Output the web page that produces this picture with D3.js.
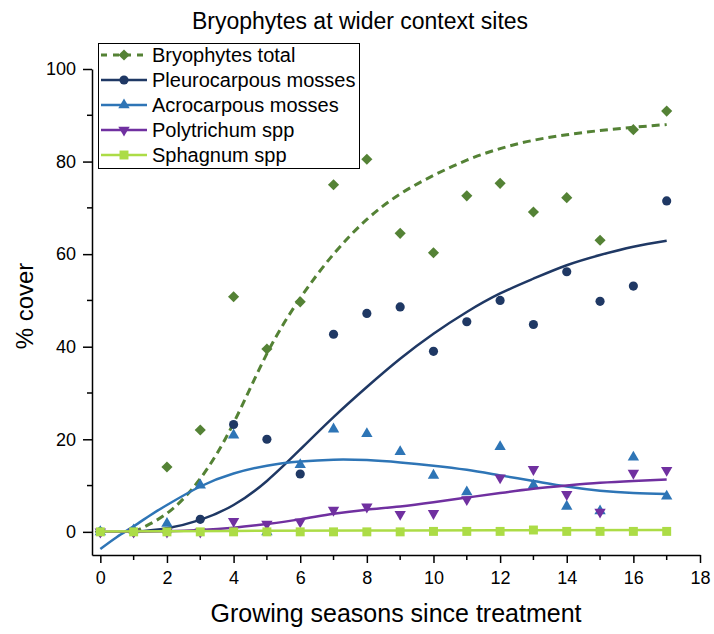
<!DOCTYPE html>
<html>
<head>
<meta charset="utf-8">
<script src="https://cdn.jsdelivr.net/npm/d3@7"></script>
<style>
  body { margin: 0; background: #fff; }
  text { font-family: "Liberation Sans", Arial, sans-serif; fill: #000; }
</style>
</head>
<body>
<svg id="chart"></svg>
<script>
var WIDTH = 714;
var HEIGHT = 634;

// observed values, one per growing season
var seasons = [0, 1, 2, 3, 4, 5, 6, 7, 8, 9, 10, 11, 12, 13, 14, 15, 16, 17];
var total  = [0, 0, 14.0, 22.0, 50.8, 39.5, 49.7, 75.0, 80.5, 64.5, 60.3, 72.6, 75.3, 69.1, 72.2, 63.0, 86.9, 90.9];
var pleuro = [0, 0, 0, 2.7, 23.2, 20.0, 12.5, 42.7, 47.2, 48.6, 39.0, 45.4, 50.0, 44.8, 56.2, 49.8, 53.1, 71.5];
var acro   = [0, 0.4, 1.8, 10.1, 20.9, 0, 14.5, 22.2, 21.2, 17.3, 12.2, 8.6, 18.4, 10.1, 5.5, 4.5, 16.1, 7.7];
var poly   = [0, 0, 0, 0, 2.3, 1.7, 2.2, 4.7, 5.4, 3.8, 4.0, 7.0, 11.7, 13.5, 8.1, 4.3, 12.7, 13.3];
var sphag  = [0, 0, 0, 0, 0, 0, 0, 0, 0, 0, 0.1, 0.1, 0.1, 0.4, 0.1, 0.1, 0.1, 0.1];

// fitted curves
var totalFitX = [1, 2, 3, 4, 5, 6, 7, 8, 9, 10, 11, 12, 13, 14, 15, 16, 17];
var totalFit  = [0, 4, 11.5, 23.5, 38.5, 50.5, 60, 67.5, 73, 77, 80.3, 82.8, 84.6, 85.8, 86.7, 87.4, 88];
var pleuroFitX = [1, 2, 3, 4, 5, 6, 7, 8, 9, 10, 11, 12, 13, 14, 15, 16, 17];
var pleuroFit  = [0, 0.8, 2.6, 5.8, 11, 17.8, 24.8, 31.3, 37.4, 42.8, 47.5, 51.5, 54.7, 57.6, 59.8, 61.6, 62.9];
var acroFitX = [0, 0.5, 1, 1.5, 2, 3, 4, 5, 6, 7, 8, 9, 10, 11, 12, 13, 14, 15, 16, 17];
var acroFit  = [-3.7, -1.1, 1.2, 3.6, 5.8, 9.8, 12.6, 14.3, 15.2, 15.6, 15.5, 15.0, 14.3, 13.4, 12.2, 11.0, 9.8, 8.9, 8.4, 8.2];
var polyFitX = [0, 1, 2, 3, 4, 5, 6, 7, 8, 9, 10, 11, 12, 13, 14, 15, 16, 17];
var polyFit  = [0, 0.05, 0.15, 0.4, 0.9, 1.7, 2.7, 3.9, 4.8, 5.5, 6.4, 7.4, 8.4, 9.3, 10.0, 10.6, 11.0, 11.3];
var sphagFitX = [0, 4, 8, 12, 17];
var sphagFit  = [0.1, 0.2, 0.3, 0.35, 0.4];

var xTicks = [0, 2, 4, 6, 8, 10, 12, 14, 16, 18];
var yTicks = [0, 20, 40, 60, 80, 100];

var series = [
    {name: 'Bryophytes total',    color: '#548235', symbol: 'diamond', dash: '8,5', width: 3,   values: total,  fx: totalFitX,  fy: totalFit},
    {name: 'Pleurocarpous mosses', color: '#1f3864', symbol: 'circle',  dash: null,  width: 2.5, values: pleuro, fx: pleuroFitX, fy: pleuroFit},
    {name: 'Acrocarpous mosses',  color: '#2e75b6', symbol: 'up',      dash: null,  width: 2.5, values: acro,   fx: acroFitX,   fy: acroFit},
    {name: 'Polytrichum spp',     color: '#7030a0', symbol: 'down',    dash: null,  width: 2.5, values: poly,   fx: polyFitX,   fy: polyFit},
    {name: 'Sphagnum spp',        color: '#acdc46', symbol: 'square',  dash: null,  width: 2.5, values: sphag,  fx: sphagFitX,  fy: sphagFit}
];

var svg = d3.select('#chart')
    .attr('width', WIDTH)
    .attr('height', HEIGHT);

var xScale = d3.scaleLinear().domain([-0.25, 18]).range([92, 700]);
var yScale = d3.scaleLinear().domain([-5, 100]).range([555, 69]);

var symbolPath = function(kind){
    if (kind === 'diamond') return d3.symbol(d3.symbolSquare, 62)();
    if (kind === 'circle') return d3.symbol(d3.symbolCircle, 66)();
    if (kind === 'square') return d3.symbol(d3.symbolSquare, 80)();
    return d3.symbol(d3.symbolTriangle, 56)();
};
var symbolRotate = function(kind){
    if (kind === 'diamond') return ' rotate(45)';
    if (kind === 'down') return ' rotate(180)';
    return '';
};

// title
svg.append('text')
    .attr('x', 360)
    .attr('y', 29)
    .attr('text-anchor', 'middle')
    .style('font-size', '23px')
    .text('Bryophytes at wider context sites');

// axes
var bottomAxis = d3.axisBottom(xScale)
    .tickValues(xTicks)
    .tickSize(8)
    .tickSizeOuter(0)
    .tickPadding(8)
    .tickFormat(d3.format('d'));
var gx = svg.append('g')
    .attr('transform', 'translate(0,555)')
    .call(bottomAxis);
gx.selectAll('.tick line').attr('stroke-width', 1.5);
gx.select('.domain').attr('stroke-width', 1.5);
gx.selectAll('text').style('font-size', '18px').style('font-family', '"Liberation Sans", Arial, sans-serif');
gx.selectAll('.minor')
    .data(d3.range(1, 18, 2))
    .enter()
    .append('line')
    .attr('x1', function(d){ return xScale(d); })
    .attr('x2', function(d){ return xScale(d); })
    .attr('y1', 0)
    .attr('y2', 5)
    .attr('stroke', '#000')
    .attr('stroke-width', 1.5);

var leftAxis = d3.axisLeft(yScale)
    .tickValues(yTicks)
    .tickSize(9)
    .tickSizeOuter(0)
    .tickPadding(7);
var gy = svg.append('g')
    .attr('transform', 'translate(92,0)')
    .call(leftAxis);
gy.selectAll('.tick line').attr('stroke-width', 1.5);
gy.select('.domain').attr('stroke-width', 1.5);
gy.selectAll('text').style('font-size', '18px').style('font-family', '"Liberation Sans", Arial, sans-serif');
gy.selectAll('.minor')
    .data(d3.range(10, 100, 20))
    .enter()
    .append('line')
    .attr('y1', function(d){ return yScale(d); })
    .attr('y2', function(d){ return yScale(d); })
    .attr('x1', 0)
    .attr('x2', -5)
    .attr('stroke', '#000')
    .attr('stroke-width', 1.5);

svg.append('text')
    .attr('x', 396)
    .attr('y', 622)
    .attr('text-anchor', 'middle')
    .style('font-size', '25px')
    .text('Growing seasons since treatment');

svg.append('text')
    .attr('transform', 'translate(33,306) rotate(-90)')
    .attr('text-anchor', 'middle')
    .style('font-size', '24px')
    .text('% cover');

// series
var line = d3.line()
    .x(function(d){ return xScale(d[0]); })
    .y(function(d){ return yScale(d[1]); })
    .curve(d3.curveNatural);

series.forEach(function(s){
    var pts = s.fx.map(function(x, i){ return [x, s.fy[i]]; });
    svg.append('path')
        .datum(pts)
        .attr('d', line)
        .attr('fill', 'none')
        .attr('stroke', s.color)
        .attr('stroke-width', s.width)
        .attr('stroke-dasharray', s.dash);

    svg.append('g').selectAll('path')
        .data(s.values)
        .enter()
        .append('path')
        .attr('d', symbolPath(s.symbol))
        .attr('transform', function(d, i){
            return 'translate(' + xScale(seasons[i]) + ',' + yScale(d) + ')' + symbolRotate(s.symbol);
        })
        .attr('fill', s.color);
});

// legend
var legend = svg.append('g');
legend.append('rect')
    .attr('x', 98.5)
    .attr('y', 43.5)
    .attr('width', 261)
    .attr('height', 125)
    .attr('fill', '#fff')
    .attr('stroke', '#000')
    .attr('stroke-width', 1);

var rows = legend.selectAll('.row')
    .data(series)
    .enter()
    .append('g')
    .attr('transform', function(d, i){ return 'translate(0,' + (55 + i * 25) + ')'; });
rows.append('line')
    .attr('x1', 101).attr('x2', 147)
    .attr('y1', 0).attr('y2', 0)
    .attr('stroke', function(d){ return d.color; })
    .attr('stroke-width', function(d){ return d.width; })
    .attr('stroke-dasharray', function(d){ return d.dash ? '6,6' : null; });
rows.append('path')
    .attr('d', function(d){ return symbolPath(d.symbol); })
    .attr('transform', function(d){ return 'translate(124,0)' + symbolRotate(d.symbol); })
    .attr('fill', function(d){ return d.color; });
rows.append('text')
    .attr('x', 152)
    .attr('dy', '0.36em')
    .style('font-size', '20px')
    .text(function(d){ return d.name; });
</script>
</body>
</html>
